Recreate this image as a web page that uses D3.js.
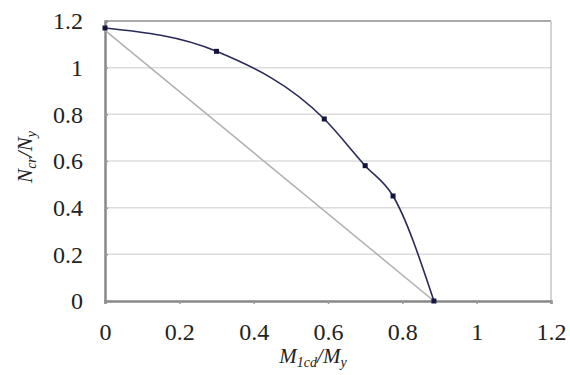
<!DOCTYPE html>
<html><head><meta charset="utf-8">
<script src="https://cdn.jsdelivr.net/npm/d3@7"></script>
<style>body{margin:0;background:#fff}svg{display:block}text{font-family:"Liberation Serif","DejaVu Serif",serif}</style>
</head><body>
<svg id="c" width="570" height="375"></svg>
<script>
const curveX = [0, 0.30, 0.59, 0.70, 0.775, 0.885];
const curveY = [1.17, 1.07, 0.78, 0.58, 0.45, 0];
const lineX = [0, 0.885];
const lineY = [1.16, 0];
const xTicks = [0, 0.2, 0.4, 0.6, 0.8, 1, 1.2];
const yTicks = [0, 0.2, 0.4, 0.6, 0.8, 1, 1.2];

const svg = d3.select("#c");
const x = d3.scaleLinear().domain([0, 1.2]).range([105, 551]);
const y = d3.scaleLinear().domain([0, 1.2]).range([301, 21]);
const font = '"Liberation Serif","DejaVu Serif",serif';

// gridlines
svg.append("g").selectAll("line").data(yTicks.filter(v => v > 0 && v < 1.2)).join("line")
  .attr("x1", x(0)).attr("x2", x(1.2)).attr("y1", d => y(d)).attr("y2", d => y(d))
  .attr("stroke", "#dcdcdc").attr("stroke-width", 1.5);

// frame
svg.append("line").attr("x1", x(0)).attr("x2", x(1.2)).attr("y1", y(1.2)).attr("y2", y(1.2)).attr("stroke", "#aaa").attr("stroke-width", 2);
svg.append("line").attr("x1", x(1.2)).attr("x2", x(1.2)).attr("y1", y(0)).attr("y2", y(1.2)).attr("stroke", "#c4c4c4").attr("stroke-width", 1.5);

// axes
const ax = svg.append("g").attr("transform", `translate(0,${y(0)})`)
  .call(d3.axisBottom(x).tickValues(xTicks).tickSize(3).tickFormat(d3.format("~g")));
const ay = svg.append("g").attr("transform", `translate(${x(0)},0)`)
  .call(d3.axisLeft(y).tickValues(yTicks).tickSize(-3).tickFormat(d3.format("~g")));
[ax, ay].forEach(g => {
  g.attr("font-family", font);
  g.select(".domain").attr("stroke", "#888").attr("stroke-width", 2.5);
  g.selectAll(".tick line").attr("stroke", "#999").attr("stroke-width", 1.5);
  g.selectAll("text").style("font-family", font).attr("font-size", 24).attr("fill", "#222");
});
ax.selectAll("text").attr("dy", "0.71em").attr("y", 22);
ay.selectAll("text").attr("x", -22).attr("dy", "0.32em");

// gray straight line
const lineData = lineX.map((v, i) => [v, lineY[i]]);
svg.append("path").datum(lineData)
  .attr("d", d3.line().x(d => x(d[0])).y(d => y(d[1])))
  .attr("fill", "none").attr("stroke", "#b0b0b0").attr("stroke-width", 1.5);

// dark curve
const cData = curveX.map((v, i) => [v, curveY[i]]);
svg.append("path").datum(cData)
  .attr("d", d3.line().x(d => x(d[0])).y(d => y(d[1])).curve(d3.curveMonotoneX))
  .attr("fill", "none").attr("stroke", "#2a2a5a").attr("stroke-width", 1.6);
svg.append("g").selectAll("rect").data(cData).join("rect")
  .attr("x", d => x(d[0]) - 2.5).attr("y", d => y(d[1]) - 2.5)
  .attr("width", 5).attr("height", 5).attr("fill", "#141440");

// axis labels
const xl = svg.append("text").attr("x", 313).attr("y", 363).attr("text-anchor", "middle")
  .style("font-family", font).attr("font-style", "italic").attr("font-size", 21).attr("fill", "#222");
xl.append("tspan").text("M");
xl.append("tspan").attr("font-size", 14).attr("dy", 4).text("1cd");
xl.append("tspan").attr("dy", -4).text("/M");
xl.append("tspan").attr("font-size", 14).attr("dy", 4).text("y");

const yl = svg.append("text").attr("transform", "translate(32,157) rotate(-90)").attr("text-anchor", "middle")
  .style("font-family", font).attr("font-style", "italic").attr("font-size", 21).attr("fill", "#222");
yl.append("tspan").text("N");
yl.append("tspan").attr("font-size", 14).attr("dy", 4).text("cr");
yl.append("tspan").attr("dy", -4).text("/N");
yl.append("tspan").attr("font-size", 14).attr("dy", 4).text("y");
</script>
</body></html>
